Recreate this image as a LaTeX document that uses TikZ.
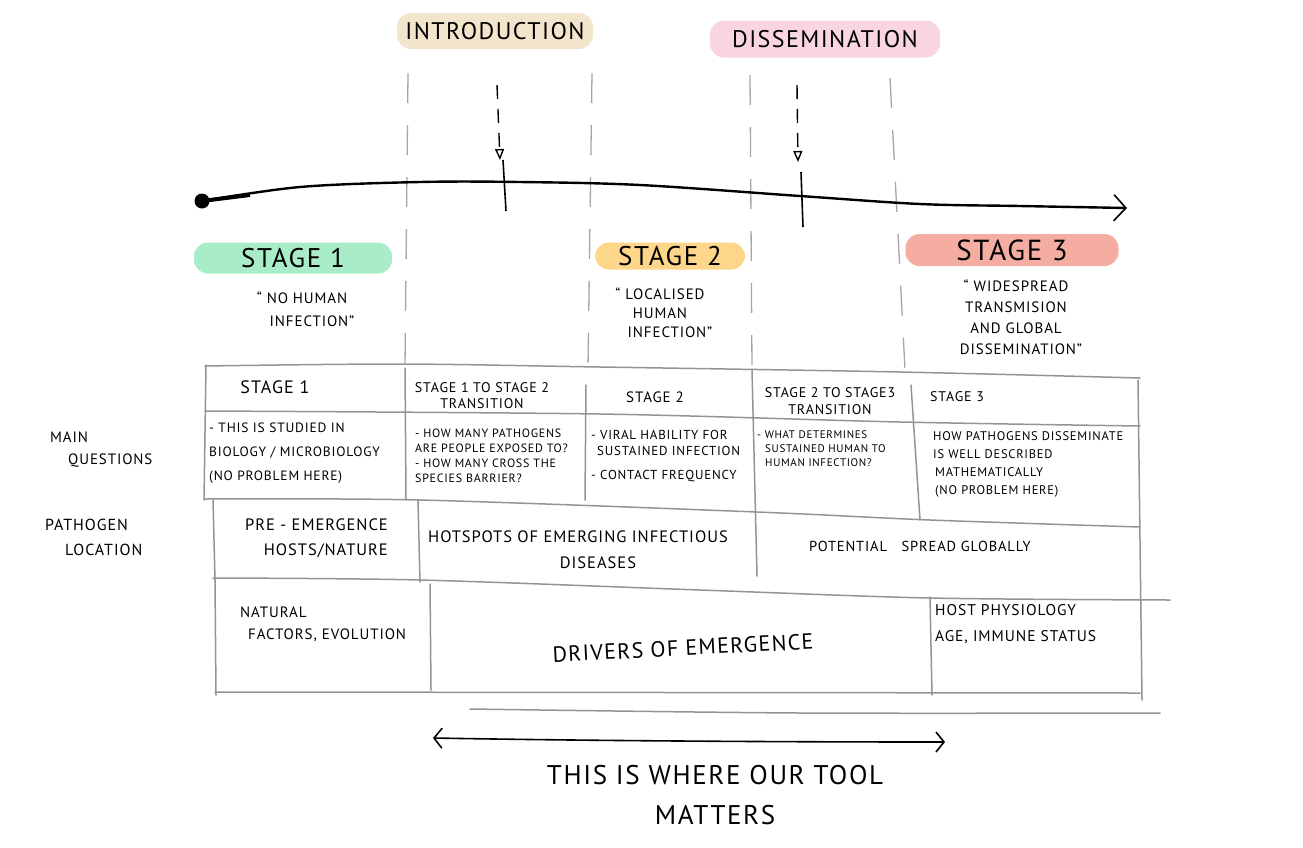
\documentclass[tikz,border=0pt]{standalone}
\usepackage{fontspec}
\setmainfont{PT Sans}[LetterSpace=6]
\usetikzlibrary{arrows.meta}
\definecolor{introc}{HTML}{F2E5CB}
\definecolor{dissc}{HTML}{F9D5E0}
\definecolor{stonec}{HTML}{A9EDC8}
\definecolor{sttwoc}{HTML}{FDD68A}
\definecolor{stthreec}{HTML}{F5ACA1}
\begin{document}
\begin{tikzpicture}[x=1pt,y=-1pt,
  txt/.style={inner sep=0pt, align=left},
  gridline/.style={draw=black!42, line width=1.5pt, line cap=round},
  guide/.style={draw=black!35, line width=1.3pt, dash pattern=on 30pt off 22pt},
  marker/.style={draw=black, line width=1.4pt, dash pattern=on 14pt off 10pt, -{Triangle[open,length=11pt,width=9pt]}},
  tick/.style={draw=black, line width=1.6pt},
  hl/.style={rounded corners=14pt, inner sep=0pt}]
\useasboundingbox (0,0) rectangle (1303,847);
\fill[white] (0,0) rectangle (1303,847);

% phase labels
\node[hl, fill=introc, minimum width=196pt, minimum height=36pt, font=\fontsize{24}{28}\selectfont] (intro) at (495,31) {INTRODUCTION};
\node[hl, fill=dissc, minimum width=230pt, minimum height=37pt, font=\fontsize{24}{28}\selectfont] (diss) at (825,39) {DISSEMINATION};

% guide lines
\draw[guide] (408,73) -- (405,366);
\draw[guide] (592,73) -- (588,368);
\draw[guide] (750,75) -- (752,368);
\draw[guide] (890,78) -- (905,370);

% markers on timeline
\coordinate (mia) at (497,85);
\coordinate (mib) at (500,160);
\coordinate (mda) at (797,85);
\coordinate (mdb) at (798,162);
\draw[marker] (mia) -- (mib);
\draw[marker] (mda) -- (mdb);
\coordinate (tia) at (503,160);
\coordinate (tib) at (506,211);
\coordinate (tda) at (801,172);
\coordinate (tdb) at (803,227);
\draw[tick] (tia) -- (tib);
\draw[tick] (tda) -- (tdb);

% timeline
\node[circle, fill=black, minimum size=15pt, inner sep=0pt] (tdot) at (202,201) {};
\coordinate (tend) at (1127,208);
\draw[line width=4pt] (tdot.center) -- (250,195);
\draw[line width=2.4pt, -{Straight Barb[length=12pt,width=26pt,line width=1.6pt]}]
  plot[smooth, tension=0.55] coordinates {(tdot.center) (300,187) (420,182) (520,182) (640,185) (800,196) (920,204) (1020,206) (tend)};

% stage labels
\node[hl, fill=stonec, minimum width=198pt, minimum height=31pt, font=\fontsize{27}{30}\selectfont] (s1) at (293,258) {STAGE 1};
\node[hl, fill=sttwoc, minimum width=150pt, minimum height=27pt, font=\fontsize{27}{30}\selectfont] (s2) at (670,256) {STAGE 2};
\node[hl, fill=stthreec, minimum width=213pt, minimum height=32pt, font=\fontsize{29}{32}\selectfont] (s3) at (1012,250) {STAGE 3};

\node[txt, align=center, font=\fontsize{15}{23}\selectfont] (q1) at (302,309) {“ NO HUMAN\\ \hspace*{20pt}INFECTION”};
\node[txt, align=center, font=\fontsize{15}{19}\selectfont] (q2) at (660,313) {“ LOCALISED\\HUMAN\\ \hspace*{20pt}INFECTION”};
\node[txt, align=center, font=\fontsize{15}{21}\selectfont] (q3) at (1016,317) {“ WIDESPREAD\\TRANSMISION\\AND GLOBAL\\ \hspace*{10pt}DISSEMINATION”};

% table lines
\draw[gridline] plot[smooth] coordinates {(205,366) (400,364) (600,367) (900,372) (1140,378)};
\draw[gridline] plot[smooth] coordinates {(205,411) (600,414) (900,422) (1140,426)};
\draw[gridline] plot[smooth] coordinates {(205,499) (420,500) (757,512) (930,520) (1140,527)};
\draw[gridline] plot[smooth] coordinates {(213,578) (420,580) (700,590) (930,598) (1170,600)};
\draw[gridline] (215,692) -- (1140,693);
\draw[gridline] plot[smooth] coordinates {(470,709) (800,713) (1160,713)};

\draw[gridline] (206,365) -- (204,500);
\draw[gridline] (213,500) -- (215,580);
\draw[gridline] (215,580) -- (216,695);
\draw[gridline] (405,368) -- (406,500);
\draw[gridline] (418,500) -- (420,582);
\draw[gridline] (430,584) -- (431,690);
\draw[gridline] (586,385) -- (585,500);
\draw[gridline] (752,370) -- (757,576);
\draw[gridline] (911,385) -- (920,520);
\draw[gridline] (930,597) -- (932,695);
\draw[gridline] (1138,380) -- (1142,700);

% header row
\node[txt, font=\fontsize{18}{20}\selectfont] (h1) at (275,387) {STAGE 1};
\node[txt, align=center, font=\fontsize{14}{16}\selectfont] (h2) at (482,396) {STAGE 1 TO STAGE 2\\TRANSITION};
\node[txt, font=\fontsize{15}{16}\selectfont] (h3) at (655,397) {STAGE 2};
\node[txt, align=center, font=\fontsize{14}{17}\selectfont] (h4) at (830,401) {STAGE 2 TO STAGE3\\TRANSITION};
\node[txt, font=\fontsize{14}{16}\selectfont] (h5) at (957,397) {STAGE 3};

% left labels
\node[txt, anchor=north west, font=\fontsize{15}{22}\selectfont] (lmq) at (50,432) {MAIN\\ \hspace*{18pt}QUESTIONS};
\node[txt, anchor=north west, font=\fontsize{16}{25}\selectfont] (lpl) at (45,519) {PATHOGEN\\ \hspace*{20pt}LOCATION};

% main questions row
\node[txt, anchor=north west, font=\fontsize{13.5}{24}\selectfont] (c1) at (209,423) {- THIS IS STUDIED IN\\BIOLOGY / MICROBIOLOGY\\(NO PROBLEM HERE)};
\node[txt, anchor=north west, font=\fontsize{12}{15}\selectfont] (c2) at (415,429) {- HOW MANY PATHOGENS\\ARE PEOPLE EXPOSED TO?\\- HOW MANY CROSS THE\\SPECIES BARRIER?};
\node[txt, anchor=north west, font=\fontsize{13}{16}\selectfont] (c3) at (591,430) {- VIRAL HABILITY FOR\\ \hspace*{6pt}SUSTAINED INFECTION\\[8pt]- CONTACT FREQUENCY};
\node[txt, anchor=north west, font=\fontsize{11}{14}\selectfont] (c4) at (757,430) {- WHAT DETERMINES\\ \hspace*{8pt}SUSTAINED HUMAN TO\\ \hspace*{8pt}HUMAN INFECTION?};
\node[txt, anchor=north west, font=\fontsize{12.5}{18}\selectfont] (c5) at (933,431) {HOW PATHOGENS DISSEMINATE\\IS WELL DESCRIBED\\ \hspace*{2pt}MATHEMATICALLY\\ \hspace*{2pt}(NO PROBLEM HERE)};

% pathogen location row
\node[txt, anchor=north east, align=right, font=\fontsize{16.5}{25}\selectfont] (p1) at (388,519) {PRE - EMERGENCE\\HOSTS/NATURE};
\node[txt, align=center, font=\fontsize{16.5}{26}\selectfont] (p2) at (578,550) {HOTSPOTS OF EMERGING INFECTIOUS\\ \hspace*{40pt}DISEASES};
\node[txt, font=\fontsize{14.5}{16}\selectfont] (p3) at (920,546) {POTENTIAL\quad SPREAD GLOBALLY};

% drivers row
\node[txt, anchor=north west, font=\fontsize{15}{22}\selectfont] (d1) at (240,607) {NATURAL\\ \hspace*{8pt}FACTORS, EVOLUTION};
\node[txt, rotate=3, font=\fontsize{22}{24}\selectfont] (d2) at (683,648) {DRIVERS OF EMERGENCE};
\node[txt, anchor=north west, font=\fontsize{15.5}{26}\selectfont] (d3) at (935,604) {HOST PHYSIOLOGY\\AGE, IMMUNE STATUS};

% bottom arrow and text
\coordinate (al) at (433,738);
\coordinate (ar) at (945,742);
\draw[line width=1.6pt, {Straight Barb[length=8pt,width=20pt]}-{Straight Barb[length=8pt,width=20pt]}] (al) .. controls (600,741) and (800,742) .. (ar);
\node[txt, align=center, font=\fontsize{27}{40}\selectfont] (tool) at (715,795) {THIS IS WHERE OUR TOOL\\MATTERS};
\end{tikzpicture}
\end{document}
